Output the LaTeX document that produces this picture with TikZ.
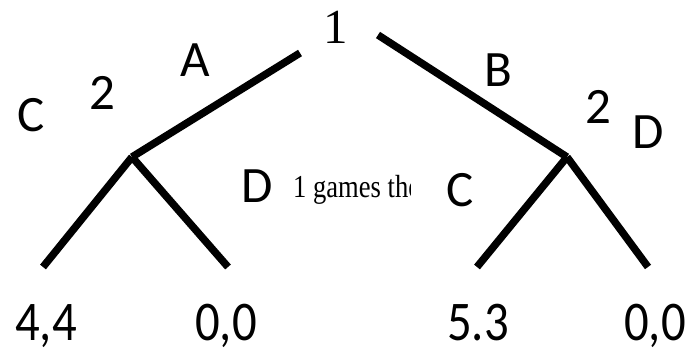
\documentclass[tikz,border=0pt]{standalone}
\usepackage{fontspec}
\setmainfont{Carlito}
\newfontfamily\timesfont{Liberation Serif}
\usetikzlibrary{positioning}

\begin{document}
\begin{tikzpicture}[
    x=1pt, y=-1pt,
    branch/.style={line width=7.5pt, line cap=butt},
    lbl/.style={inner sep=0pt, font=\fontsize{51}{60}\selectfont},
    payoff/.style={inner sep=0pt, anchor=base, font=\fontsize{56}{66}\selectfont},
    player/.style={inner sep=0pt, font=\timesfont\fontsize{49}{58}\selectfont}
]
\useasboundingbox (0,0) rectangle (692,353);

% Decision points
\node[player] (root) at (336,27) {1};
\coordinate (rootL) at (300,53);
\coordinate (rootR) at (378,35);
\coordinate (left) at (132,157);
\coordinate (right) at (567,157);

% Terminal points
\coordinate (leafLC) at (43,267);
\coordinate (leafLD) at (228,267);
\coordinate (leafRC) at (477,267);
\coordinate (leafRD) at (648,267);

% Branches
\draw[branch] (rootL) -- (left);
\draw[branch] (rootR) -- (right);
\draw[branch] (left) -- (leafLC);
\draw[branch] (left) -- (leafLD);
\draw[branch] (right) -- (leafRC);
\draw[branch] (right) -- (leafRD);

% Action and player labels
\node[lbl] (actA) at (195,60) {A};
\node[lbl] (actB) at (498,70) {B};
\node[lbl] (p2L) at (102,93) {2};
\node[lbl] (p2R) at (598,107) {2};
\node[lbl] (actLC) at (31,115) {C};
\node[lbl] (actLD) at (257,186) {D};
\node[lbl] (actRC) at (460,190) {C};
\node[lbl] (actRD) at (648,132) {D};

% Cut-off caption
\begin{scope}
\clip (285,160) rectangle (410,210);
\node[inner sep=0pt, anchor=base west, font=\timesfont\fontsize{32}{38}\selectfont]
    (note) at (293,197) {\scalebox{0.83}[1]{1 games the}};
\end{scope}

% Payoffs
\node[payoff] (payLC) at (46,340) {\scalebox{0.87}[1]{4,4}};
\node[payoff] (payLD) at (226,340) {\scalebox{0.87}[1]{0,0}};
\node[payoff] (payRC) at (478,340) {\scalebox{0.87}[1]{5.3}};
\node[payoff] (payRD) at (655,340) {\scalebox{0.87}[1]{0,0}};

\end{tikzpicture}
\end{document}
